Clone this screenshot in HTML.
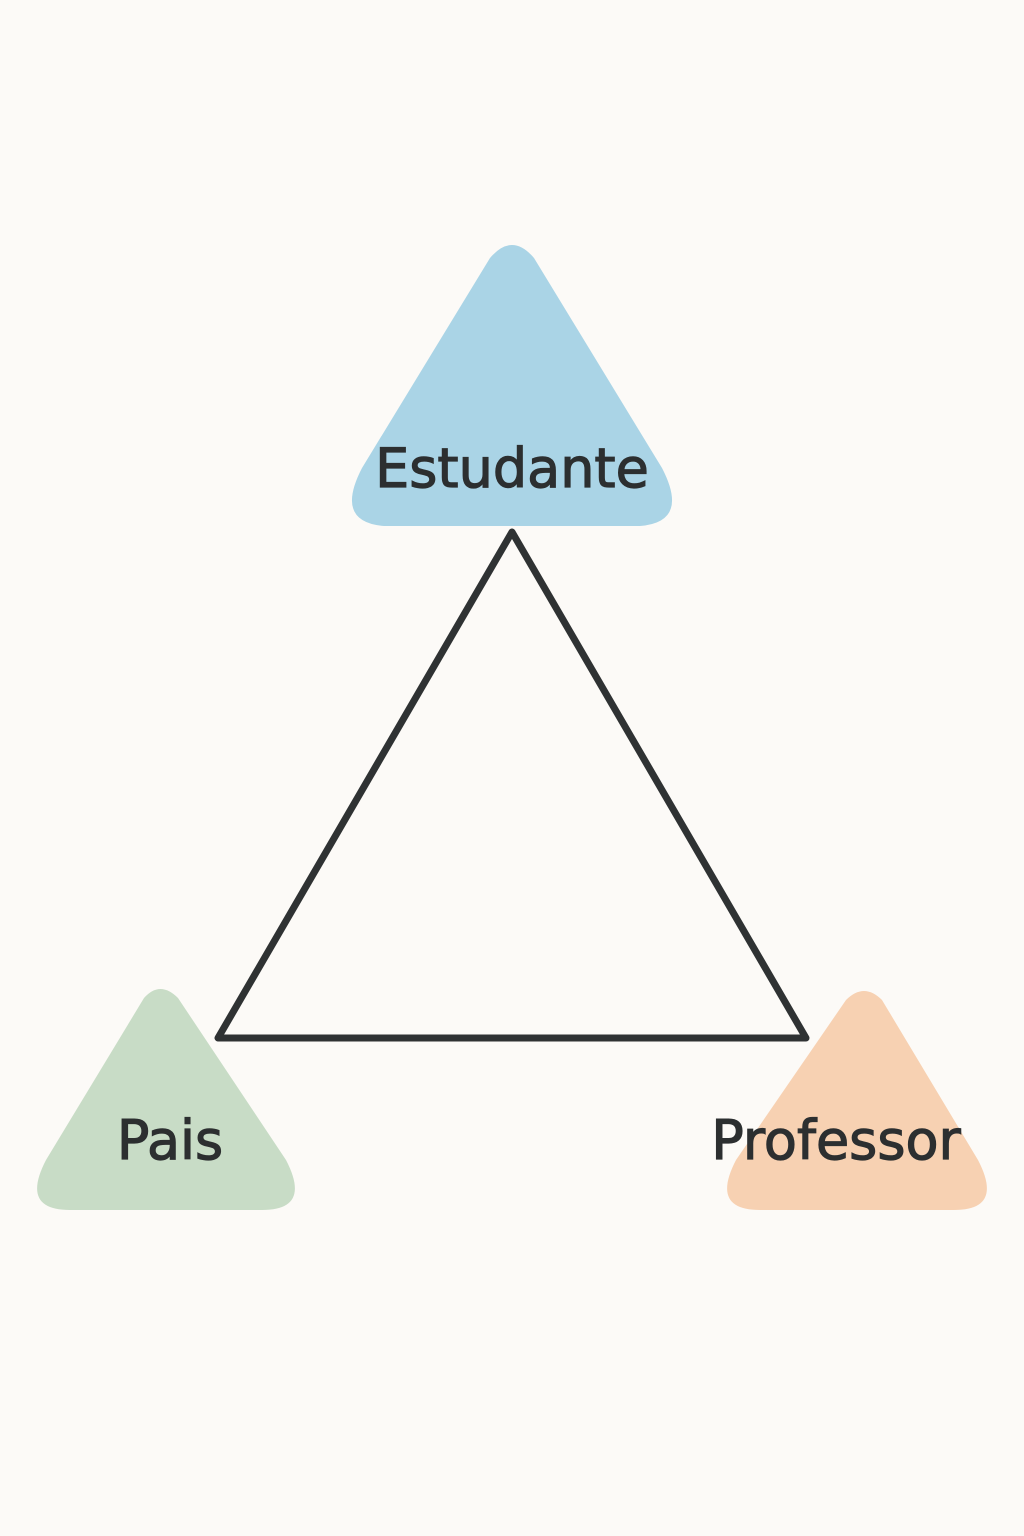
<!DOCTYPE html>
<html><head><meta charset="utf-8"><style>
html,body{margin:0;padding:0;background:#fcfaf7;}
svg{display:block;}
text{font-family:"DejaVu Sans","Liberation Sans",sans-serif;fill:#2c2f30;stroke:#2c2f30;stroke-width:1.2;}
</style></head><body>
<svg width="1024" height="1536" viewBox="0 0 1024 1536">
<rect width="1024" height="1536" fill="#fcfaf7"/>
<path d="M490 258 Q512 232 534 258 L662 468 Q690 522 640 526 L384 526 Q334 522 362 468 Z" fill="#aad4e6"/>
<path d="M144 998 Q160 980 178 998 L286 1160 Q312 1210 262 1210 L70 1210 Q20 1210 46 1160 Z" fill="#c8dcc6"/>
<path d="M846 1000 Q864 982 882 1000 L978 1160 Q1004 1210 954 1210 L760 1210 Q710 1210 736 1160 Z" fill="#f7d1b2"/>
<polygon points="512,532 218,1038 806,1038" fill="none" stroke="#2f3233" stroke-width="7" stroke-linejoin="round"/>
<text x="512" y="487" font-size="54" text-anchor="middle">Estudante</text>
<text x="170" y="1159" font-size="54" text-anchor="middle">Pais</text>
<text x="836" y="1159" font-size="54" text-anchor="middle">Professor</text>
</svg>
</body></html>
